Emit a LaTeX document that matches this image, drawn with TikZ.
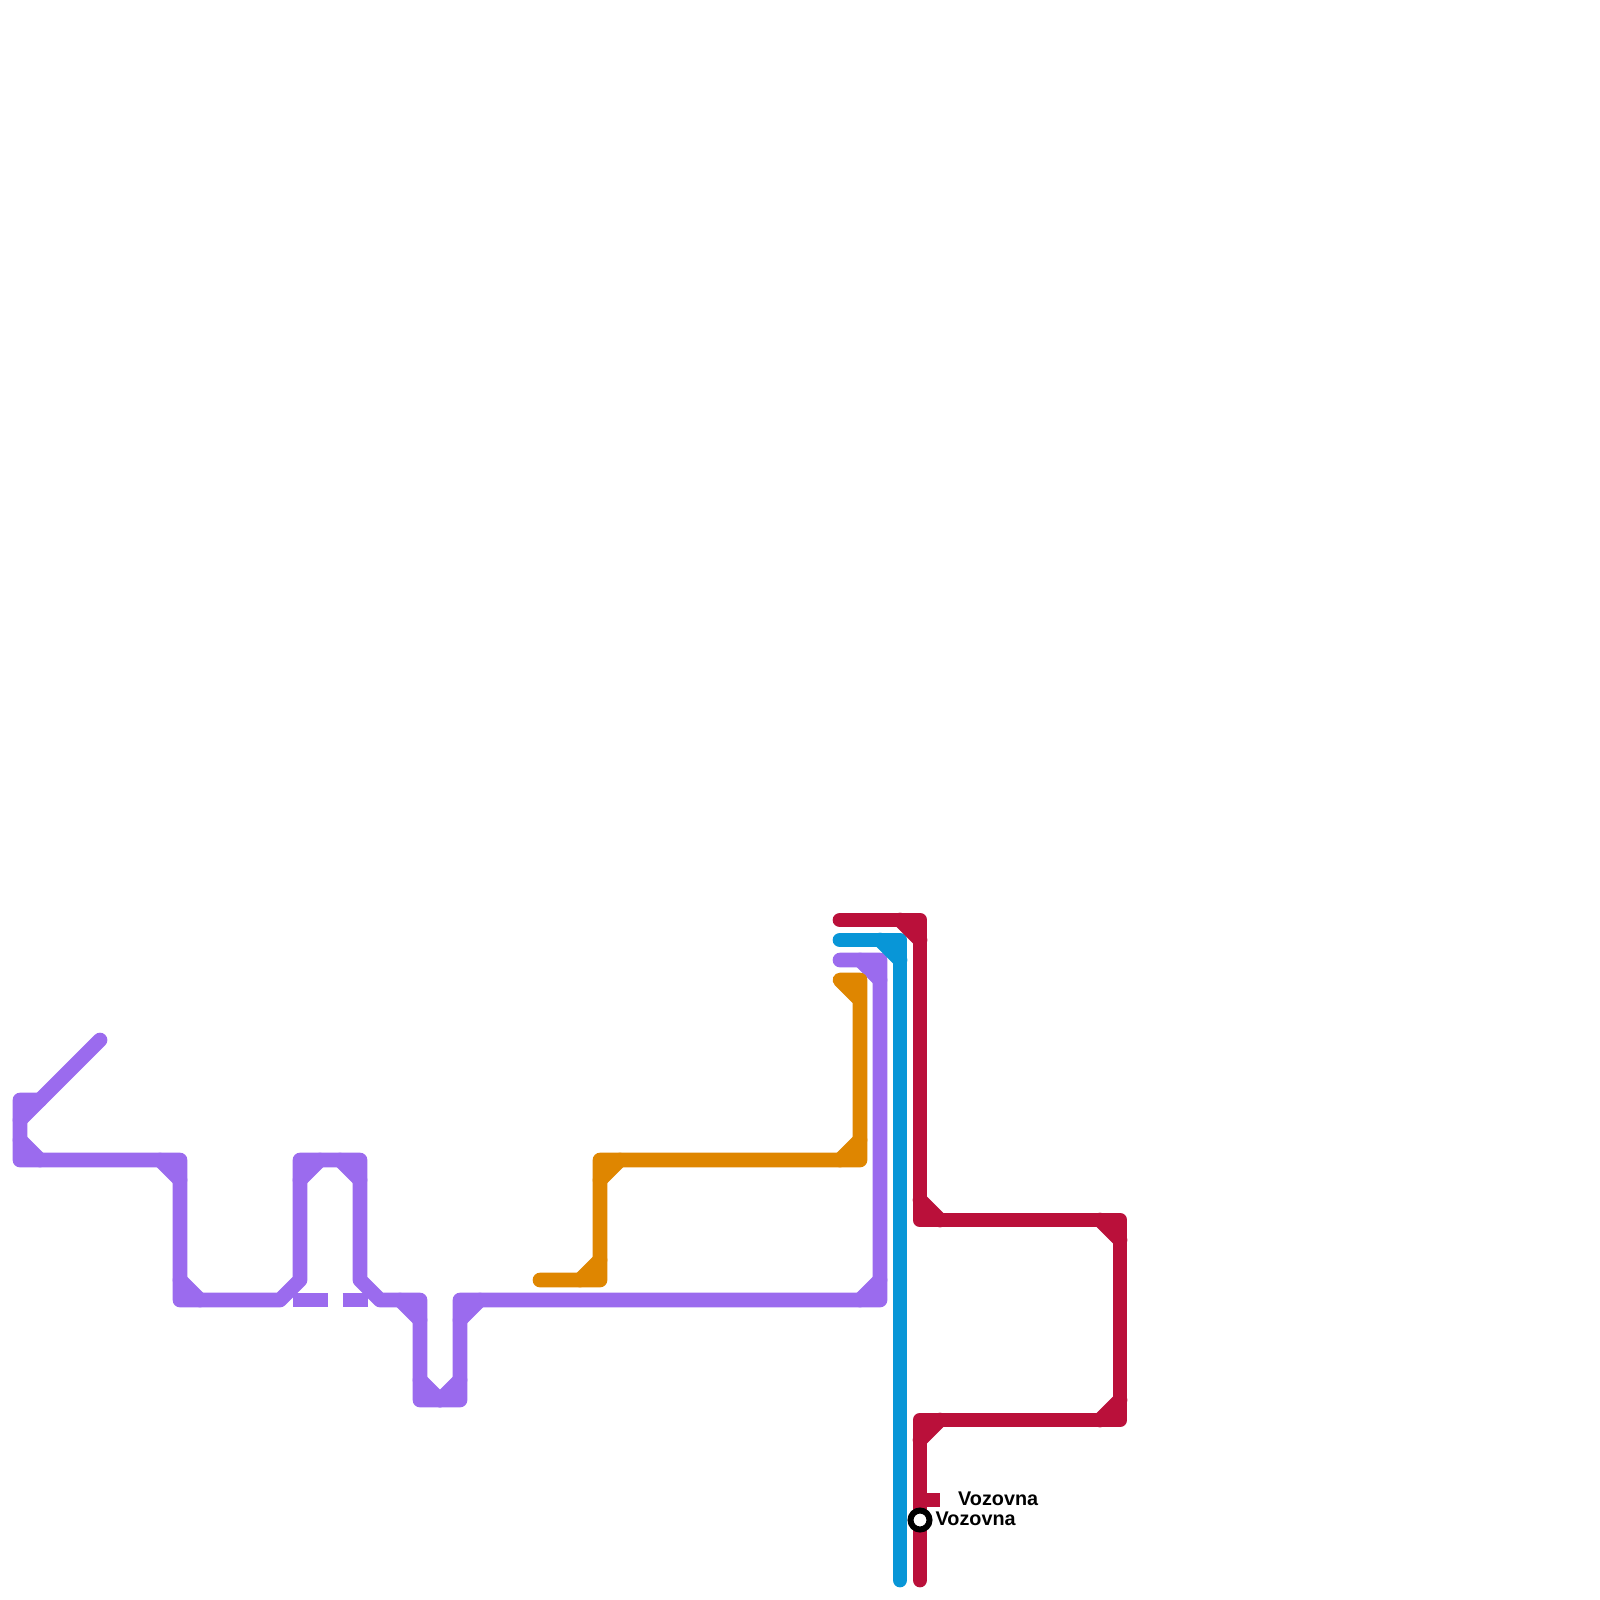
\documentclass[tikz,border=0pt]{standalone}
\usepackage{fontspec}
\setmainfont{Liberation Sans}
\definecolor{cpurple}{HTML}{9B6BEE}
\definecolor{corange}{HTML}{DF8600}
\definecolor{cblue}{HTML}{0896D7}
\definecolor{ccrimson}{HTML}{BA103A}
\tikzset{
  metro/.style={line width=14.7pt,line cap=round,line join=round},
  stub/.style={line width=14.7pt,line cap=butt},
  stationring/.style={circle,draw=black,fill=white,line width=6pt,minimum size=19pt,inner sep=0pt},
  stationlabel/.style={font=\fontsize{19.8}{20}\selectfont\bfseries,text=black,inner sep=0pt,anchor=base west}
}
\begin{document}
\begin{tikzpicture}[x=1pt,y=-1pt]
\useasboundingbox (0,0) rectangle (1600,1600);
% purple
\draw[metro,cpurple] (100,1040) -- (20,1120);
\draw[metro,cpurple] (40,1100) -- (20,1100) -- (20,1160) -- (180,1160) -- (180,1300) -- (280,1300) -- (300,1280) -- (300,1160) -- (360,1160) -- (360,1280) -- (380,1300) -- (420,1300) -- (420,1400) -- (460,1400) -- (460,1300) -- (880,1300) -- (880,960) -- (840,960);
\foreach \a/\b/\c/\d in {20/1140/40/1160,160/1160/180/1180,180/1280/200/1300,300/1180/320/1160,340/1160/360/1180,400/1300/420/1320,420/1380/440/1400,440/1400/460/1380,460/1320/480/1300,860/1300/880/1280,860/960/880/980}
  \draw[metro,cpurple] (\a,\b) -- (\c,\d);
\draw[stub,cpurple] (292.5,1300) -- (327.5,1300);
\draw[stub,cpurple] (342.5,1300) -- (367.5,1300);
% orange
\draw[metro,corange] (540,1280) -- (600,1280) -- (600,1160) -- (860,1160) -- (860,980) -- (840,980) -- (860,1000);
\foreach \a/\b/\c/\d in {580/1280/600/1260,600/1180/620/1160,840/1160/860/1140}
  \draw[metro,corange] (\a,\b) -- (\c,\d);
% blue
\draw[metro,cblue] (840,940) -- (900,940) -- (900,1580);
\draw[metro,cblue] (880,940) -- (900,960);
% crimson
\draw[metro,ccrimson] (840,920) -- (920,920) -- (920,1220) -- (1120,1220) -- (1120,1420) -- (920,1420) -- (920,1580);
\foreach \a/\b/\c/\d in {900/920/920/940,920/1200/940/1220,1100/1220/1120/1240,1100/1420/1120/1400,920/1440/940/1420}
  \draw[metro,ccrimson] (\a,\b) -- (\c,\d);
\draw[stub,ccrimson] (920,1500) -- (940,1500);
% station and labels
\node[stationring] (vozovna) at (920,1520) {};
\node[stationlabel] (labelupper) at (958,1505) {Vozovna};
\node[stationlabel] (labellower) at (935.5,1525) {Vozovna};
\end{tikzpicture}
\end{document}
